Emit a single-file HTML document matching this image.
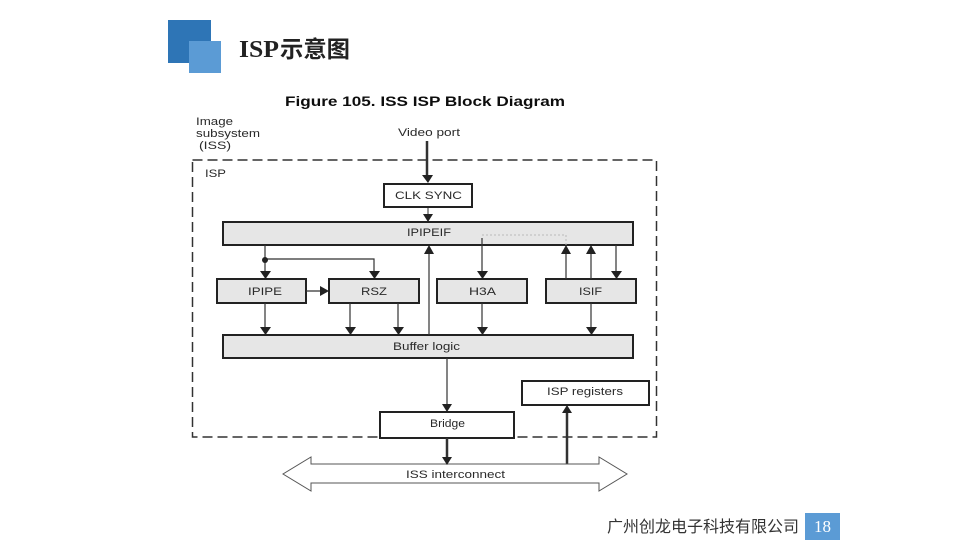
<!DOCTYPE html>
<html><head><meta charset="utf-8"><style>
html,body{margin:0;padding:0;background:#fff}
svg{display:block}
text{font-family:"Liberation Sans",sans-serif;fill:#2a2a2a;font-size:11px}
</style></head><body>
<svg width="960" height="540" viewBox="0 0 960 540" xmlns="http://www.w3.org/2000/svg">
<defs><filter id="b" x="-5%" y="-5%" width="110%" height="110%"><feGaussianBlur stdDeviation="0.3"/></filter></defs>
<rect x="168" y="20" width="43" height="43" fill="#2e75b6"/>
<rect x="189" y="41" width="32" height="32" fill="#5b9bd5"/>
<text x="239" y="57" textLength="40" lengthAdjust="spacingAndGlyphs" style="font-family:'Liberation Serif',serif;font-size:24px;font-weight:bold;fill:#222">ISP</text>
<text x="280" y="57" textLength="70" lengthAdjust="spacingAndGlyphs" style="font-family:'Noto Sans CJK SC',sans-serif;font-size:23px;font-weight:bold;fill:#222">示意图</text>
<g filter="url(#b)">
<text x="285" y="106" style="font-size:13.5px;font-weight:bold;fill:#111" textLength="280" lengthAdjust="spacingAndGlyphs">Figure 105.  ISS ISP Block Diagram</text>
<text x="196" y="125" textLength="37" lengthAdjust="spacingAndGlyphs">Image</text>
<text x="196" y="137" textLength="64" lengthAdjust="spacingAndGlyphs">subsystem</text>
<text x="199" y="149" textLength="32" lengthAdjust="spacingAndGlyphs">(ISS)</text>
<text x="398" y="136" textLength="62" lengthAdjust="spacingAndGlyphs">Video port</text>
<text x="205" y="177" textLength="21" lengthAdjust="spacingAndGlyphs">ISP</text>
<rect x="192.500" y="160" width="464" height="277" fill="none" stroke="#333" stroke-width="1.500" stroke-dasharray="10 5"/>
<g stroke="#222" stroke-width="2">
<rect x="384" y="184" width="88" height="23" fill="#fff"/>
<rect x="223" y="222" width="410" height="23" fill="#e6e6e6"/>
<rect x="217" y="279" width="89" height="24" fill="#e6e6e6"/>
<rect x="329" y="279" width="90" height="24" fill="#e6e6e6"/>
<rect x="437" y="279" width="90" height="24" fill="#e6e6e6"/>
<rect x="546" y="279" width="90" height="24" fill="#e6e6e6"/>
<rect x="223" y="335" width="410" height="23" fill="#e6e6e6"/>
<rect x="522" y="381" width="127" height="24" fill="#fff"/>
<rect x="380" y="412" width="134" height="26" fill="#fff"/>
</g>
<text x="395" y="199" textLength="67" lengthAdjust="spacingAndGlyphs">CLK SYNC</text>
<text x="407" y="236" textLength="44" lengthAdjust="spacingAndGlyphs">IPIPEIF</text>
<text x="248" y="295" textLength="34" lengthAdjust="spacingAndGlyphs">IPIPE</text>
<text x="361" y="295" textLength="26" lengthAdjust="spacingAndGlyphs">RSZ</text>
<text x="469" y="295" textLength="27" lengthAdjust="spacingAndGlyphs">H3A</text>
<text x="579" y="295" textLength="23" lengthAdjust="spacingAndGlyphs">ISIF</text>
<text x="393" y="350" textLength="67" lengthAdjust="spacingAndGlyphs">Buffer logic</text>
<text x="547" y="395" textLength="76" lengthAdjust="spacingAndGlyphs">ISP registers</text>
<text x="430" y="427" textLength="35" lengthAdjust="spacingAndGlyphs">Bridge</text>
<g stroke="#333" fill="none">
<path d="M427 141V176" stroke-width="2.500"/>
<path d="M428 208V216" stroke-width="1"/>
<path d="M265 245V272M265 259H374V272M306 291H322M265 303V328M350 303V328M398 303V328M429 335V254M482 238V272M482 303V328M566 279V254M591 279V254M616 245V272M591 303V328M447 358V405" stroke-width="1.200"/>
<path d="M447 438V458M567 464V412" stroke-width="2.500"/>
<path d="M482 235H566V245" stroke="#bbb" stroke-width="1" stroke-dasharray="2 2"/>
<path d="M311 464V457L283 474L311 491V483H599V491L627 474L599 457V464Z" stroke="#555" stroke-width="1" fill="#fff"/>
</g>
<text x="406" y="478" textLength="99" lengthAdjust="spacingAndGlyphs">ISS interconnect</text>
<g fill="#222">
<path d="M422 175H433L428 183Z"/><path d="M423 214H433L428 222Z"/>
<circle cx="265" cy="260" r="3"/>
<path d="M260 271H271L265.500 279Z"/><path d="M369 271H380L374.500 279Z"/><path d="M477 271H488L482.500 279Z"/><path d="M611 271H622L616.500 279Z"/>
<path d="M320 286L329 291L320 296Z"/>
<path d="M260 327H271L265.500 335Z"/><path d="M345 327H356L350.500 335Z"/><path d="M393 327H404L398.500 335Z"/><path d="M477 327H488L482.500 335Z"/><path d="M586 327H597L591.500 335Z"/>
<path d="M424 254H434L429 245Z"/><path d="M561 254H571L566 245Z"/><path d="M586 254H596L591 245Z"/>
<path d="M442 404H452L447 412Z"/><path d="M442 457H452L447 465Z"/><path d="M562 413H572L567 405Z"/>
</g>
</g>
<text x="607" y="532" style="font-family:'Liberation Sans','Noto Sans CJK SC',sans-serif;font-size:16px;fill:#333" textLength="192" lengthAdjust="spacingAndGlyphs">广州创龙电子科技有限公司</text>
<rect x="805" y="513" width="35" height="27" fill="#5b9bd5"/>
<text x="822.500" y="532" text-anchor="middle" style="font-family:'Liberation Serif',serif;font-size:17px;fill:#fff">18</text>
</svg>
</body></html>
